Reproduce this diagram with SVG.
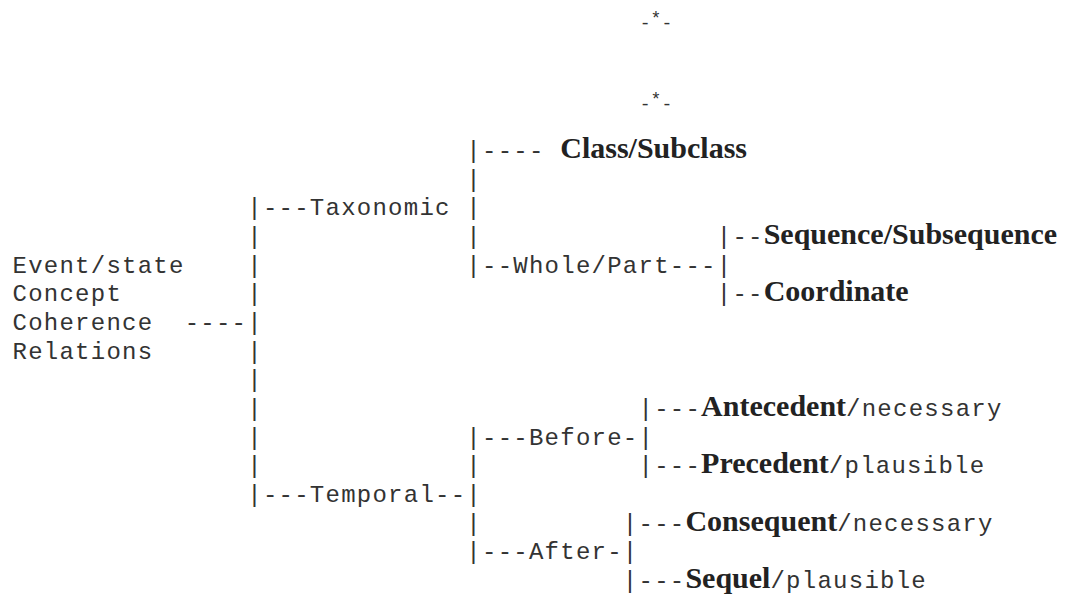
<svg xmlns="http://www.w3.org/2000/svg" width="1077" height="596" viewBox="0 0 1077 596">
<style>
.m{font-family:"Liberation Mono","DejaVu Sans Mono",monospace;font-size:24px;letter-spacing:1.25px;fill:#333;white-space:pre}
.b{font-family:"Liberation Serif","DejaVu Serif",serif;font-size:30px;font-weight:bold;letter-spacing:0;fill:#222}
.k{font-family:"Liberation Mono","DejaVu Sans Mono",monospace;font-size:18px;fill:#333}
</style>
<rect width="1077" height="596" fill="#fff"/>
<g id="marks">
<text class="k" x="656" y="29" text-anchor="middle">-<tspan dy="-5">*</tspan><tspan dy="5">-</tspan></text>
<text class="k" x="656" y="110" text-anchor="middle">-<tspan dy="-5">*</tspan><tspan dy="5">-</tspan></text>
</g>
<g id="connectors" class="m">
<text class="m" x="466.35" y="158">|----</text>
<text class="m" x="466.35" y="186.7">|</text>
<text class="m" x="247.25" y="215.3">|---</text>
<text class="m" x="466.35" y="215.3">|</text>
<text class="m" x="247.25" y="244">|</text>
<text class="m" x="466.35" y="244">|</text>
<text class="m" x="716.75" y="244">|--</text>
<text class="m" x="247.25" y="272.7">|</text>
<text class="m" x="466.35" y="272.7">|--</text>
<text class="m" x="669.8" y="272.7">---|</text>
<text class="m" x="247.25" y="301.3">|</text>
<text class="m" x="716.75" y="301.3">|--</text>
<text class="m" x="184.65" y="330">----|</text>
<text class="m" x="247.25" y="358.7">|</text>
<text class="m" x="247.25" y="387.3">|</text>
<text class="m" x="247.25" y="416">|</text>
<text class="m" x="638.5" y="416">|---</text>
<text class="m" x="247.25" y="444.7">|</text>
<text class="m" x="466.35" y="444.7">|---</text>
<text class="m" x="622.85" y="444.7">-|</text>
<text class="m" x="247.25" y="473.3">|</text>
<text class="m" x="466.35" y="473.3">|</text>
<text class="m" x="638.5" y="473.3">|---</text>
<text class="m" x="247.25" y="502">|---</text>
<text class="m" x="435.05" y="502">--|</text>
<text class="m" x="466.35" y="530.7">|</text>
<text class="m" x="622.85" y="530.7">|---</text>
<text class="m" x="466.35" y="559.3">|---</text>
<text class="m" x="607.2" y="559.3">-|</text>
<text class="m" x="622.85" y="588">|---</text>
</g>
<g id="root">
<text class="m" x="12.5" y="272.7">Event/state</text>
<text class="m" x="12.5" y="301.3">Concept</text>
<text class="m" x="12.5" y="330">Coherence</text>
<text class="m" x="12.5" y="358.7">Relations</text>
</g>
<g id="taxonomic"><text class="m" x="309.85" y="215.3">Taxonomic</text></g>
<g id="temporal"><text class="m" x="309.85" y="502">Temporal</text></g>
<g id="class-subclass"><text class="b" x="560.25" y="158">Class/Subclass</text></g>
<g id="whole-part"><text class="m" x="513.3" y="272.7">Whole/Part</text></g>
<g id="sequence-subsequence"><text class="b" x="763.7" y="244">Sequence/Subsequence</text></g>
<g id="coordinate"><text class="b" x="763.7" y="301.3">Coordinate</text></g>
<g id="before"><text class="m" x="528.95" y="444.7">Before</text></g>
<g id="after"><text class="m" x="528.95" y="559.3">After</text></g>
<g id="antecedent"><text class="m" x="701.1" y="416"><tspan class="b">Antecedent</tspan>/necessary</text></g>
<g id="precedent"><text class="m" x="701.1" y="473.3"><tspan class="b">Precedent</tspan>/plausible</text></g>
<g id="consequent"><text class="m" x="685.45" y="530.7"><tspan class="b">Consequent</tspan>/necessary</text></g>
<g id="sequel"><text class="m" x="685.45" y="588"><tspan class="b">Sequel</tspan>/plausible</text></g>
</svg>
